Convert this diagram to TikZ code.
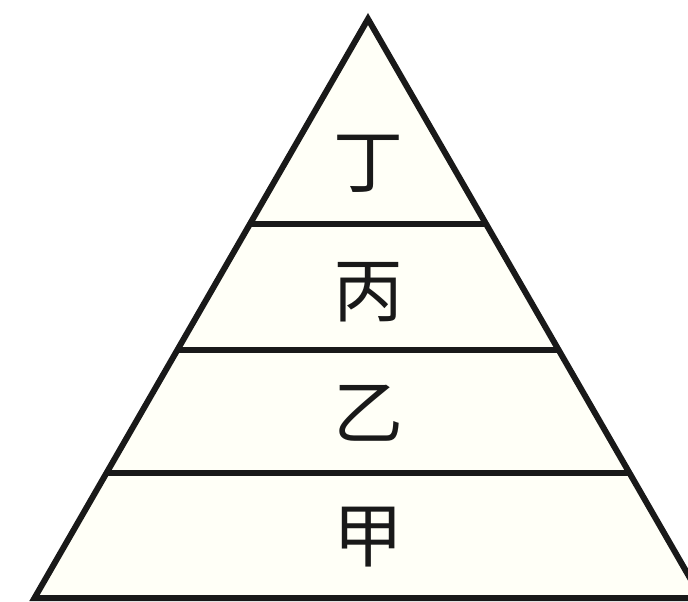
\documentclass[tikz,border=0pt]{standalone}
\usepackage{fontspec}
\newfontfamily\cjk{Noto Sans CJK SC}
\definecolor{pyrfill}{HTML}{FFFFF7}
\begin{document}
\begin{tikzpicture}[x=1pt,y=-1pt,
  edge/.style={line width=6pt,line join=miter,draw=black!90},
  label/.style={font=\cjk\fontsize{70}{70}\selectfont,text=black!90,inner sep=0pt}]
\useasboundingbox (0,0) rectangle (688,602);
\coordinate (apex) at (368,19);
\coordinate (bl) at (34.5,598);
\coordinate (br) at (701.5,598);
\coordinate (l1) at (250,224);
\coordinate (r1) at (486,224);
\coordinate (l2) at (179,350);
\coordinate (r2) at (557,350);
\coordinate (l3) at (107.5,473);
\coordinate (r3) at (629.5,473);
\filldraw[edge,fill=pyrfill] (apex) -- (br) -- (bl) -- cycle;
\draw[edge] (l1) -- (r1);
\draw[edge] (l2) -- (r2);
\draw[edge] (l3) -- (r3);
\node[label] (ding) at (368,164) {丁};
\node[label] (bing) at (368,292) {丙};
\node[label] (yi) at (368,413) {乙};
\node[label] (jia) at (368,537) {甲};
\end{tikzpicture}
\end{document}
